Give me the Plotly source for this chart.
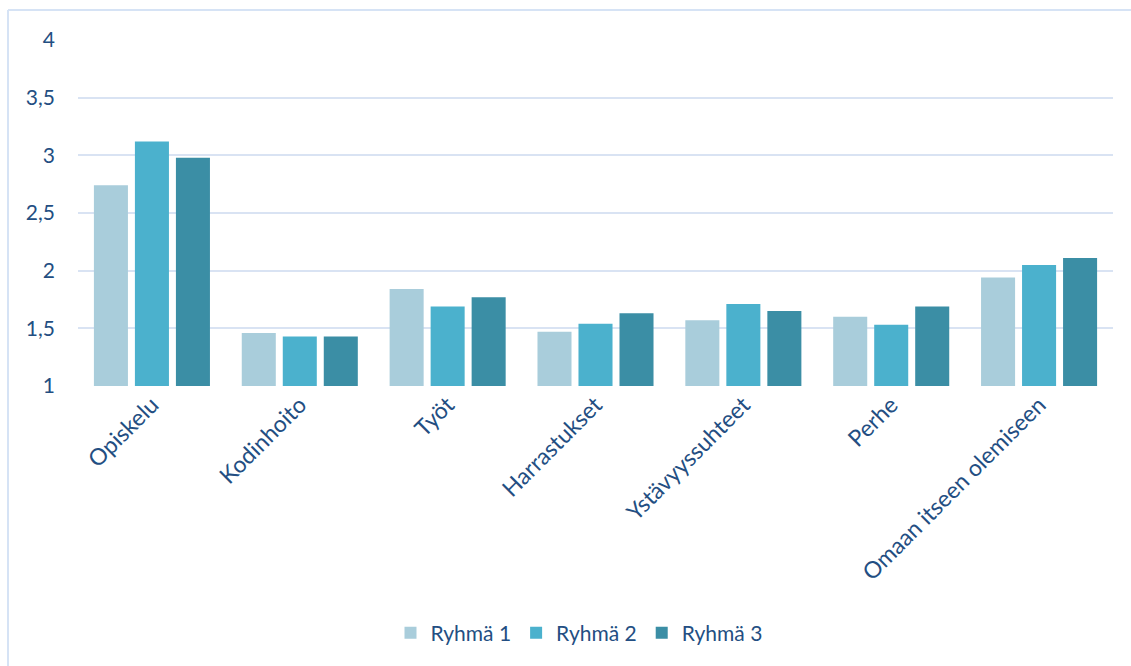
import plotly.graph_objects as go

categories = ["Opiskelu", "Kodinhoito", "Työt", "Harrastukset", "Ystävyyssuhteet", "Perhe", "Omaan itseen olemiseen"]
ryhma1 = [2.74, 1.46, 1.84, 1.47, 1.57, 1.60, 1.94]
ryhma2 = [3.12, 1.43, 1.69, 1.54, 1.71, 1.53, 2.05]
ryhma3 = [2.98, 1.43, 1.77, 1.63, 1.65, 1.69, 2.11]
series_names = ["Ryhmä 1", "Ryhmä 2", "Ryhmä 3"]
colors = ["#a9cddb", "#4bb1cd", "#3b8ea5"]
tick_vals = [1, 1.5, 2, 2.5, 3, 3.5, 4]
tick_text = ["1", "1,5", "2", "2,5", "3", "3,5", "4"]

text_color = "#234e82"
font_family = "Lato, 'Open Sans', sans-serif"

fig = go.Figure()
for name, vals, col in zip(series_names, [ryhma1, ryhma2, ryhma3], colors):
    fig.add_trace(go.Bar(x=categories, y=vals, name=name,
                         marker=dict(color=col, line=dict(width=0))))

L, R, T, B = 78, 18, 40, 280
W, H = 1131, 666
pw, ph = W - L - R, H - T - B

def px(x):
    return (x - L) / pw

def py(y):
    return (H - B - y) / ph

fig.update_layout(
    width=W, height=H,
    margin=dict(l=L, r=R, t=T, b=B),
    paper_bgcolor="white", plot_bgcolor="white",
    barmode="group", bargap=0.168, bargroupgap=0.17,
    font=dict(family=font_family, color=text_color, size=20),
    legend=dict(orientation="h", x=px(579), xanchor="center", y=py(633), yanchor="middle",
                font=dict(size=21, color=text_color), itemwidth=30, traceorder="normal"),
    showlegend=True,
)
fig.update_yaxes(range=[1, 4], tickvals=tick_vals, ticktext=tick_text,
                 showgrid=True, gridcolor="#d9e3f3", gridwidth=2, zeroline=False,
                 showline=False, ticks="", ticklabelstandoff=22,
                 tickfont=dict(size=21, color=text_color))
fig.update_xaxes(tickangle=-45, showgrid=False, showline=False, ticks="",
                 tickfont=dict(size=23, color=text_color))
border = "#d6e3f5"
fig.add_shape(type="line", xref="paper", yref="paper",
              x0=px(8), x1=px(1140), y0=py(10), y1=py(10),
              line=dict(color=border, width=2), layer="below")
fig.add_shape(type="line", xref="paper", yref="paper",
              x0=px(8), x1=px(8), y0=py(10), y1=py(680),
              line=dict(color=border, width=2), layer="below")

fig.write_html("out.html")
